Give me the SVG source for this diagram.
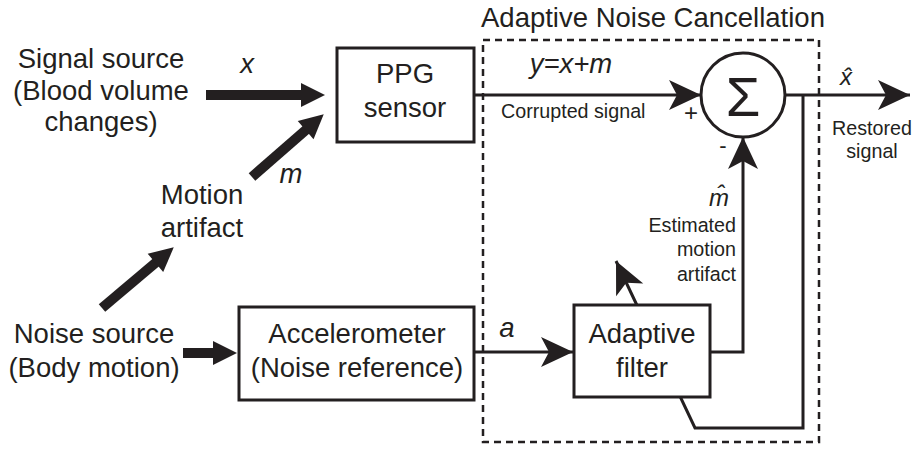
<svg xmlns="http://www.w3.org/2000/svg" width="913" height="450" viewBox="0 0 913 450">
<style>
  text { font-family: "Liberation Sans", Arial, sans-serif; fill: #231f20; }
  .big { font-size: 27.5px; }
  .mid { font-size: 19.7px; }
  .c { text-anchor: middle; }
  .e { text-anchor: end; }
  .it { font-style: italic; }
  .box { fill: #ffffff; stroke: #231f20; stroke-width: 3; }
  .thin { fill: none; stroke: #231f20; stroke-width: 3; }
  .thick { fill: none; stroke: #231f20; stroke-width: 10; }
  .dash { fill: none; stroke: #231f20; stroke-width: 2.5; stroke-dasharray: 7 5; }
</style>
<defs>
  <marker id="ah" markerUnits="userSpaceOnUse" markerWidth="34" markerHeight="30" refX="32" refY="15" orient="auto" overflow="visible">
    <path d="M0,0 L32,15 L0,30 L8,15 z" fill="#231f20"/>
  </marker>
  <marker id="th" markerUnits="userSpaceOnUse" markerWidth="24" markerHeight="24" refX="0" refY="12" orient="auto" overflow="visible">
    <path d="M-1,0 L23,12 L-1,24 z" fill="#231f20"/>
  </marker>
</defs>
<rect width="913" height="450" fill="#ffffff"/>

<g id="anc-frame">
  <rect class="dash" x="483" y="40" width="336" height="402"/>
  <text class="big" x="481" y="27">Adaptive Noise Cancellation</text>
</g>

<g id="connectors">
  <line class="thick" x1="206" y1="95" x2="302" y2="95" marker-end="url(#th)"/>
  <line class="thick" x1="252" y1="177" x2="306.4" y2="129.5" marker-end="url(#th)"/>
  <line class="thick" x1="102" y1="308" x2="156.2" y2="262.2" marker-end="url(#th)"/>
  <line class="thick" x1="183" y1="353" x2="214" y2="353" marker-end="url(#th)"/>
  <line class="thin" x1="474" y1="95" x2="701" y2="95" marker-end="url(#ah)"/>
  <line class="thin" x1="785" y1="95" x2="910" y2="95" marker-end="url(#ah)"/>
  <line class="thin" x1="474" y1="352" x2="573" y2="352" marker-end="url(#ah)"/>
  <polyline class="thin" points="710,352 743,352 743,137" marker-end="url(#ah)"/>
  <polyline class="thin" points="803,95 803,428 695,428 616,261" marker-end="url(#ah)"/>
</g>

<g id="signal-source">
  <text class="big c" x="101" y="68">Signal source</text>
  <text class="big c" x="101" y="100">(Blood volume</text>
  <text class="big c" x="101" y="131">changes)</text>
</g>
<g id="motion-artifact">
  <text class="big c" x="202" y="204">Motion</text>
  <text class="big c" x="202" y="237">artifact</text>
</g>
<g id="noise-source">
  <text class="big c" x="94" y="343">Noise source</text>
  <text class="big c" x="94" y="377">(Body motion)</text>
</g>
<g id="ppg-sensor">
  <rect class="box" x="337" y="48" width="137" height="94"/>
  <text class="big c" x="405" y="83">PPG</text>
  <text class="big c" x="405" y="117">sensor</text>
</g>
<g id="accelerometer">
  <rect class="box" x="239" y="307" width="235" height="93"/>
  <text class="big c" x="357" y="343">Accelerometer</text>
  <text class="big c" x="357" y="377">(Noise reference)</text>
</g>
<g id="adaptive-filter">
  <rect class="box" x="574" y="305" width="136" height="92"/>
  <text class="big c" x="642" y="343">Adaptive</text>
  <text class="big c" x="642" y="377">filter</text>
</g>
<g id="summer">
  <circle class="box" cx="743" cy="95" r="42"/>
  <text class="c" x="743" y="116" style="font-size:56px">Σ</text>
</g>

<g id="labels">
  <text class="big it c" x="247" y="73">x</text>
  <text class="big it c" x="291" y="183">m</text>
  <text class="big it c" x="571" y="73">y=x+m</text>
  <text class="mid" x="501" y="118">Corrupted signal</text>
  <text class="c" x="691" y="121" style="font-size:24px">+</text>
  <text class="c" x="723" y="153" style="font-size:22px">-</text>
  <text class="big it c" x="507" y="337">a</text>
  <text class="it c" x="846" y="85" style="font-size:24px">x̂</text>
  <text class="mid c" x="872" y="135">Restored</text>
  <text class="mid c" x="872" y="158">signal</text>
  <text class="it c" x="719" y="206" style="font-size:24px">m̂</text>
  <text class="mid e" x="736" y="232">Estimated</text>
  <text class="mid e" x="736" y="256">motion</text>
  <text class="mid e" x="736" y="281">artifact</text>
</g>
</svg>
